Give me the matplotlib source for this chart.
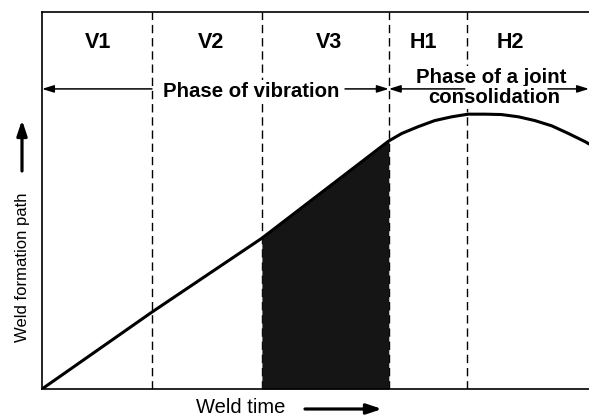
import numpy as np
import matplotlib.pyplot as plt

plt.rcParams['font.family'] = ['Liberation Sans', 'DejaVu Sans']

# zone boundaries along weld time (percent of axis)
bounds = [20.1, 40.2, 63.4, 77.7]
zone_labels = ["V1", "V2", "V3", "H1", "H2"]
zone_label_x = [10.2, 30.9, 52.5, 69.7, 85.7]

# weld formation path
path_x = [0, 20.1, 40.2, 63.4, 65.8, 68.8, 71.8, 74.9, 77.9, 81.0, 84.0,
          87.1, 90.1, 93.2, 96.2, 99.3, 100]
path_y = [0, 20.4, 40.0, 65.8, 67.8, 69.6, 71.2, 72.2, 72.9, 72.9, 72.8,
          72.2, 71.2, 69.8, 67.8, 65.6, 65.0]

# shaded part (V3)
fill_x = path_x[2:4]
fill_y = path_y[2:4]

fig = plt.figure(figsize=(5.89, 4.17), dpi=100)
ax = fig.add_axes([42 / 589, 28 / 417, 547 / 589, 377 / 417])
ax.set_xlim(0, 100)
ax.set_ylim(0, 100)
ax.set_xticks([])
ax.set_yticks([])
ax.spines['right'].set_visible(False)
for s in ['left', 'top', 'bottom']:
    ax.spines[s].set_linewidth(1.2)

for b in bounds:
    ax.axvline(b, color='black', lw=1.0, dashes=(6, 3.5), zorder=1)

ax.fill_between(fill_x, fill_y, 0, color='#151515', lw=0, zorder=2)
ax.plot(path_x, path_y, color='black', lw=2.2, solid_capstyle='round',
        solid_joinstyle='round', zorder=2)

for lab, x in zip(zone_labels, zone_label_x):
    ax.text(x, 90.5, lab, ha='center', va='baseline', fontsize=15.5, fontweight='bold')

arr = dict(arrowstyle='-|>,head_length=0.7,head_width=0.22', color='black', lw=1.1,
           shrinkA=0, shrinkB=0)
arrow_y = 79.6
ax.annotate('', xy=(0, arrow_y), xytext=(bounds[0], arrow_y), arrowprops=arr, zorder=6)
ax.annotate('', xy=(bounds[2], arrow_y), xytext=(55.4, arrow_y), arrowprops=arr, zorder=6)
ax.annotate('', xy=(bounds[2], arrow_y), xytext=(77.3, arrow_y), arrowprops=arr, zorder=6)
ax.annotate('', xy=(100, arrow_y), xytext=(92.5, arrow_y), arrowprops=arr, zorder=6)

wb = dict(facecolor='white', edgecolor='none', pad=1.5)
ax.text(38.3, 77.5, "Phase of vibration", ha='center', va='baseline', fontsize=14.7,
        fontweight='bold', bbox=wb, zorder=4)
ax.text(82.1, 81.2, "Phase of a joint", ha='center', va='baseline', fontsize=14.7,
        fontweight='bold', bbox=wb, zorder=4)
ax.text(82.6, 75.9, "consolidation", ha='center', va='baseline', fontsize=14.7,
        fontweight='bold', bbox=wb, zorder=4)

# axis titles with arrows
fig.text(241 / 589, 4 / 417, "Weld time", ha='center', va='baseline', fontsize=14.5)
fig.text(23 / 589, 0.36, "Weld formation path", ha='center', va='center', rotation=90, fontsize=12)

big = dict(arrowstyle='-|>,head_length=0.9,head_width=0.3', color='black', lw=2.3,
           shrinkA=0, shrinkB=0)
ax.annotate('', xy=(382 / 589, 8 / 417), xytext=(305 / 589, 8 / 417),
            xycoords='figure fraction', textcoords='figure fraction', arrowprops=big,
            annotation_clip=False)
ax.annotate('', xy=(22 / 589, 297 / 417), xytext=(22 / 589, 246 / 417),
            xycoords='figure fraction', textcoords='figure fraction', arrowprops=big,
            annotation_clip=False)

fig.savefig('out.png', dpi=100)
